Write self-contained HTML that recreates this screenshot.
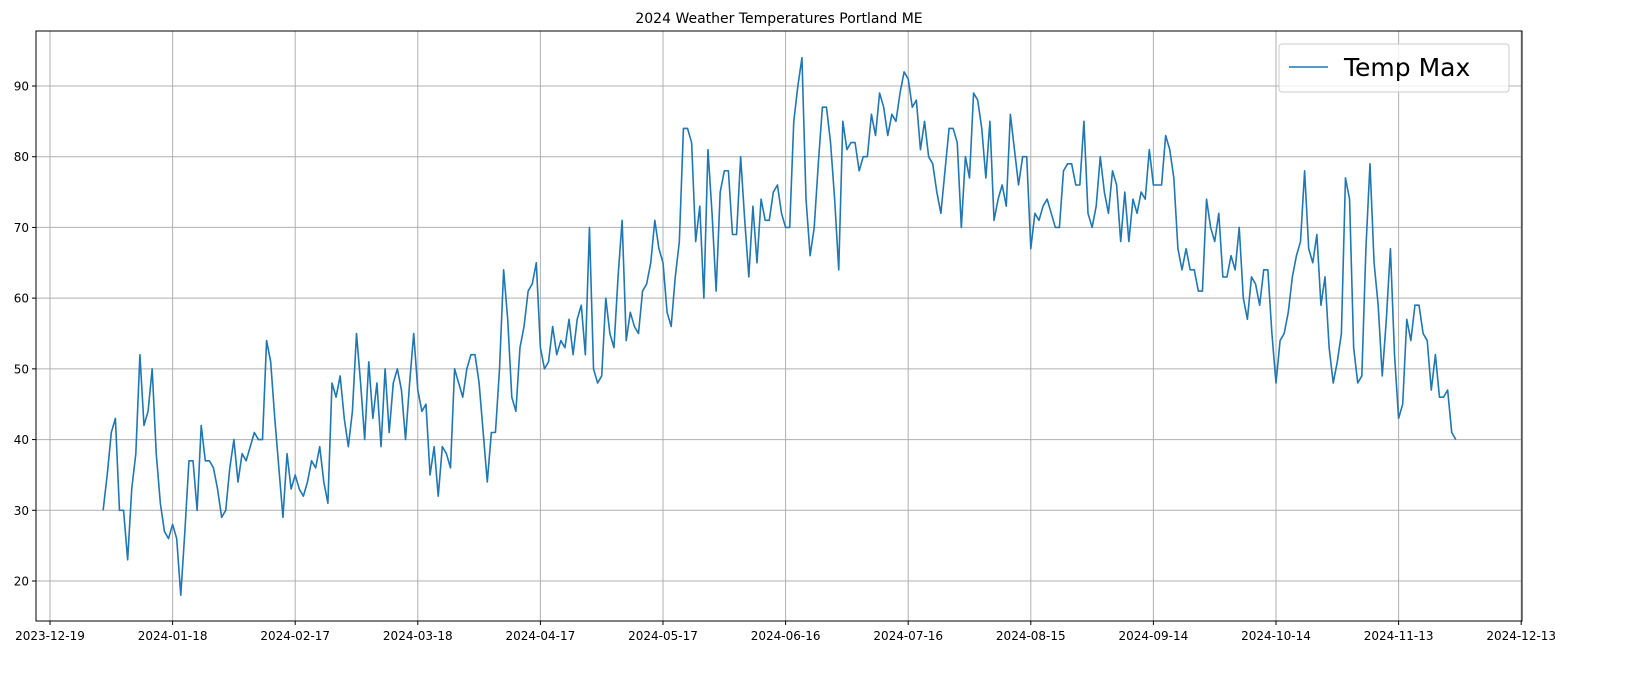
<!DOCTYPE html>
<html><head><meta charset="utf-8"><style>
body{margin:0;background:#fff;font-family:"Liberation Sans","DejaVu Sans",sans-serif}
svg{display:block}
</style></head><body>
<svg id="chart" width="1635" height="682" xmlns="http://www.w3.org/2000/svg" font-family="'DejaVu Sans','Liberation Sans',sans-serif">
<text x="779" y="23" text-anchor="middle" font-size="14">2024 Weather Temperatures Portland ME</text>
<g id="grid"></g>
<g id="ticks"></g>
<path id="line" fill="none" stroke="#1f77b4" stroke-width="1.6" stroke-linejoin="round"/>
<rect x="36" y="31" width="1486" height="590" fill="none" stroke="#000" stroke-width="1"/>
<g>
<rect x="1279" y="44" width="230" height="48" rx="3" fill="#fff" fill-opacity="0.8" stroke="#ccc"/>
<line x1="1289" y1="67" x2="1328" y2="67" stroke="#1f77b4" stroke-width="1.6"/>
<text x="1344" y="76" font-size="25">Temp Max</text>
</g>
</svg>
<script>
const yTicks=[20,30,40,50,60,70,80,90];
const xTickLabels=["2023-12-19","2024-01-18","2024-02-17","2024-03-18","2024-04-17","2024-05-17","2024-06-16","2024-07-16","2024-08-15","2024-09-14","2024-10-14","2024-11-13","2024-12-13"];
const startDate="2024-01-01";
const tempMax=[30,35,41,43,30,30,23,33,38,52,42,44,50,38,31,27,26,28,26,18,27,37,37,30,42,37,37,36,33,29,30,36,40,34,38,37,39,41,40,40,54,51,43,36,29,38,33,35,33,32,34,37,36,39,34,31,48,46,49,43,39,44,55,48,40,51,43,48,39,50,41,48,50,47,40,48,55,47,44,45,35,39,32,39,38,36,50,48,46,50,52,52,48,41,34,41,41,50,64,57,46,44,53,56,61,62,65,53,50,51,56,52,54,53,57,52,57,59,52,70,50,48,49,60,55,53,63,71,54,58,56,55,61,62,65,71,67,65,58,56,63,68,84,84,82,68,73,60,81,72,61,75,78,78,69,69,80,71,63,73,65,74,71,71,75,76,72,70,70,85,90,94,74,66,70,79,87,87,82,74,64,85,81,82,82,78,80,80,86,83,89,87,83,86,85,89,92,91,87,88,81,85,80,79,75,72,78,84,84,82,70,80,77,89,88,84,77,85,71,74,76,73,86,81,76,80,80,67,72,71,73,74,72,70,70,78,79,79,76,76,85,72,70,73,80,75,72,78,76,68,75,68,74,72,75,74,81,76,76,76,83,81,77,67,64,67,64,64,61,61,74,70,68,72,63,63,66,64,70,60,57,63,62,59,64,64,55,48,54,55,58,63,66,68,78,67,65,69,59,63,53,48,51,55,77,74,53,48,49,67,79,65,59,49,57,67,52,43,45,57,54,59,59,55,54,47,52,46,46,47,41,40];
const NS="http://www.w3.org/2000/svg";
const DAY=86400000, origin=Date.UTC(2023,11,19);
function xDay(d){return 50+d*(122.6/30);}
function xDate(s){const p=s.split('-');return xDay((Date.UTC(+p[0],p[1]-1,+p[2])-origin)/DAY);}
function y(v){return 581-(v-20)*(495/70);}
const grid=document.getElementById('grid'),ticks=document.getElementById('ticks');
function mk(tag,attrs,parent){const e=document.createElementNS(NS,tag);for(const k in attrs)e.setAttribute(k,attrs[k]);parent.appendChild(e);return e;}
yTicks.forEach(v=>{
 const g=mk('line',{x1:36,x2:1522,y1:y(v),y2:y(v),stroke:'#b0b0b0','stroke-width':1},grid);
 
 
 const t=mk('line',{x1:32,x2:36,y1:y(v),y2:y(v),stroke:'#000'},ticks);
 
 
 const l=mk('text',{x:29,y:y(v)+4.5,'text-anchor':'end','font-size':12},ticks);
 l.textContent=v;
 
 
});
xTickLabels.forEach(s=>{
 const x=xDate(s);
 const g=mk('line',{x1:x,x2:x,y1:31,y2:621,stroke:'#b0b0b0','stroke-width':1},grid);
 
 
 const t=mk('line',{x1:x,x2:x,y1:621,y2:625,stroke:'#000'},ticks);
 
 
 const l=mk('text',{x:x,y:640,'text-anchor':'middle','font-size':12},ticks);
 l.textContent=s;
 
 
});
const s0=xDate(startDate);
const step=122.6/30;
let d='';
tempMax.forEach((v,i)=>{d+=(i?'L':'M')+(s0+i*step).toFixed(2)+' '+y(v).toFixed(2);});
document.getElementById('line').setAttribute('d',d);
</script>
</body></html>
